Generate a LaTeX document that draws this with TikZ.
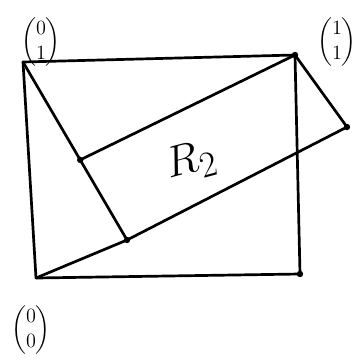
\documentclass[tikz,border=0pt]{standalone}
\usepackage{amsmath}
\usetikzlibrary{calc}
\begin{document}
\begin{tikzpicture}[x=0.03cm,y=-0.03cm,line width=2.3pt,line join=round,line cap=round,every node/.style={font=\Large,inner sep=0pt}]
\useasboundingbox (0,0) rectangle (363,359);
% corners of the unit square
\coordinate (O) at (36,278);
\coordinate (E2) at (23,62);
\coordinate (E12) at (295,55);
\coordinate (E1) at (300,274);
% rectangle R2
\coordinate (P) at (127,240);
\coordinate (S) at (347,127);
\coordinate (Q) at ($(E2)!0.55!(P)$);
\draw (O) -- (E1) -- (E12) -- (E2) -- cycle;
\draw (O) -- (P) -- (S);
\draw (E2) -- (Q) -- (P);
\draw (Q) -- (E12) -- (S);
\foreach \p in {P,Q,S,E12,E1} {\fill (\p) circle (3.2);}
\node[scale=1.2] (l01) at (41,42) {$\begin{pmatrix}0\\1\end{pmatrix}$};
\node[scale=1.2] (l11) at (337,42) {$\begin{pmatrix}1\\1\end{pmatrix}$};
\node[scale=1.2] (l00) at (31,330) {$\begin{pmatrix}0\\0\end{pmatrix}$};
\node[font=\Huge,scale=1.5,rotate=15] (r2) at (191,162) {$R_2$};
\end{tikzpicture}
\end{document}
